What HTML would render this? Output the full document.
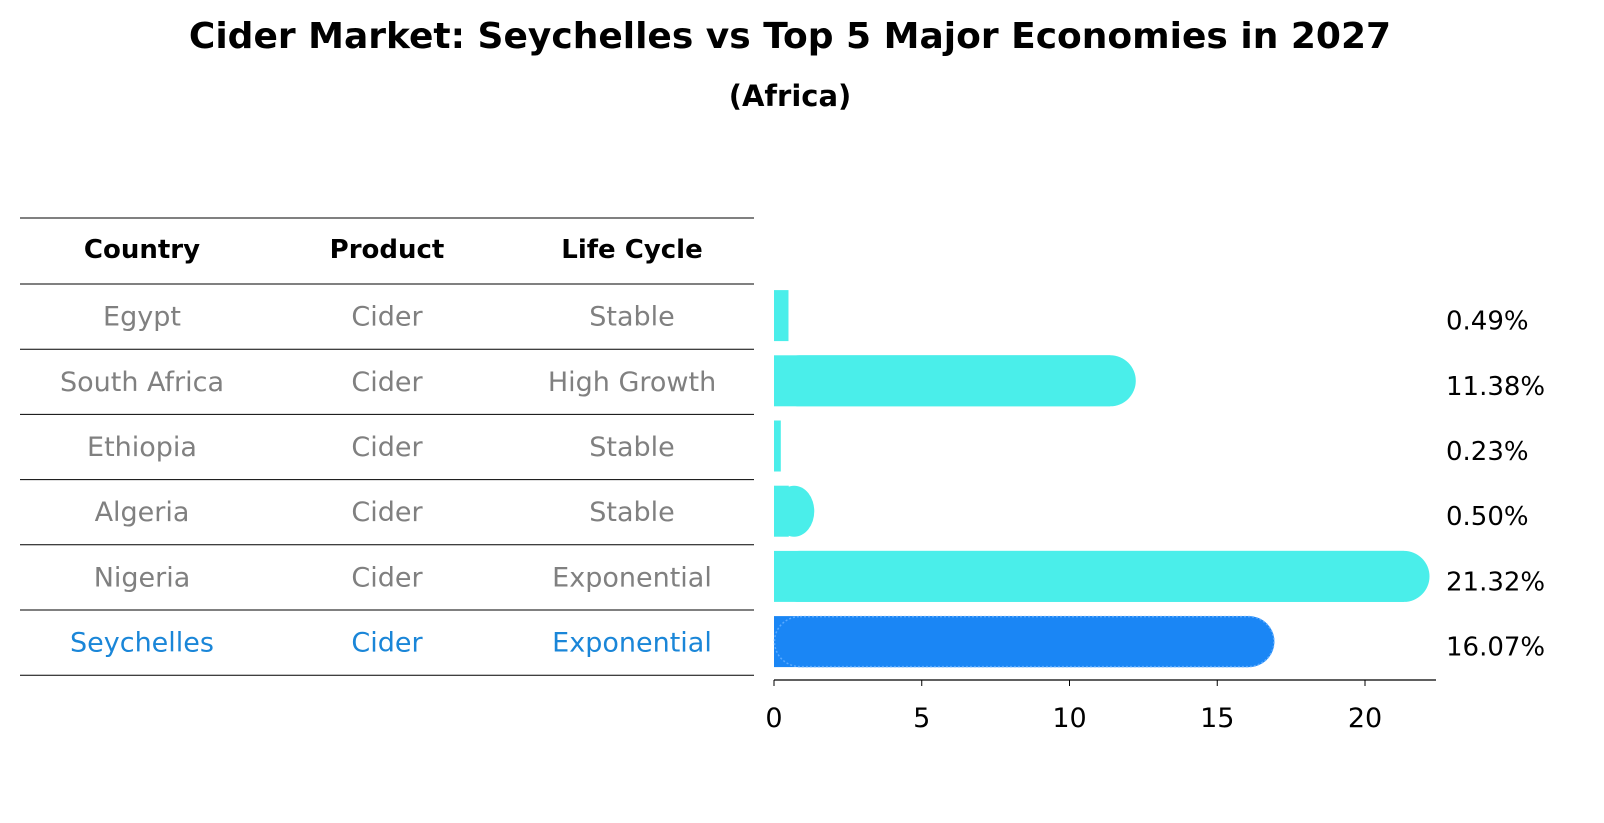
<!DOCTYPE html>
<html><head><meta charset="utf-8"><style>
body{margin:0;background:#fff;font-family:"Liberation Sans","DejaVu Sans",sans-serif;}
#wrap{position:relative;width:1604px;height:823px;overflow:hidden;}
.t{position:absolute;white-space:nowrap;line-height:1;}
</style></head><body>
<div id="wrap">
<div class="t" style="left:0;width:1580px;text-align:center;top:19px;font-size:36px;font-weight:bold;font-family:'DejaVu Sans',sans-serif;">Cider Market: Seychelles vs Top 5 Major Economies in 2027</div>
<div class="t" style="left:0;width:1580px;text-align:center;top:82px;font-size:29px;font-weight:bold;font-family:'DejaVu Sans',sans-serif;">(Africa)</div>
<svg id="svg" width="1604" height="823" style="position:absolute;left:0;top:0"></svg>
</div>
<script>
const countries=["Egypt","South Africa","Ethiopia","Algeria","Nigeria","Seychelles"];
const products=["Cider","Cider","Cider","Cider","Cider","Cider"];
const lifecycle=["Stable","High Growth","Stable","Stable","Exponential","Exponential"];
const values=[0.49,11.38,0.23,0.50,21.32,16.07];
const xTicks=[0,5,10,15,20];
const NS="http://www.w3.org/2000/svg";
const svg=document.getElementById('svg');
function mk(tag,attrs,parent){const e=document.createElementNS(NS,tag);for(const k in attrs)e.setAttribute(k,attrs[k]);(parent||svg).appendChild(e);return e;}
const x0=774,pxPer=(1365-774)/20;
function xs(v){return x0+v*pxPer;}
const rowTop=284,rowH=65.2;
function yc(i){return rowTop+rowH*(i+0.5);}
const font="'DejaVu Sans',sans-serif";
for(let i=0;i<=countries.length+1;i++){
  const y=i==0?218:rowTop+rowH*(i-1);
  const l=mk('line',{x1:20,x2:754,y1:y,y2:y,stroke:'#000','stroke-width':1});
  
  
}
const cols=[142,387,632];
const heads=["Country","Product","Life Cycle"];
heads.forEach((h,j)=>{const t=mk('text',{x:cols[j],y:258,'text-anchor':'middle','font-size':26,'font-weight':'bold','font-family':font});t.textContent=h;

});
countries.forEach((c,i)=>{
  const col=i==countries.length-1?'#1a86d8':'#808080';
  [c,products[i],lifecycle[i]].forEach((s,j)=>{const t=mk('text',{x:cols[j],y:yc(i)+9,'text-anchor':'middle','font-size':27,fill:col,'font-family':font});t.textContent=s;
  
  });
  const bh=51,top=yc(i)-bh/2-1,w=xs(values[i])-x0;
  const fill=i==countries.length-1?'#1a86f5':'#4aeeea';
  const g=mk('g',{});
  
  
  mk('rect',{x:x0,y:top,width:Math.max(w,1),height:bh,fill:fill},g);
  if(values[i]>=0.5){mk('rect',{x:x0,y:top,width:w+bh/2,height:bh,rx:bh/2,ry:bh/2,fill:fill},g);}
  if(i==countries.length-1){mk('rect',{x:x0+0.5,y:top+0.5,width:w+bh/2-1,height:bh-1,rx:bh/2,fill:'none',stroke:'#5aaaff','stroke-width':1.5,'stroke-dasharray':'2,2'},g);}
  const lt=mk('text',{x:1446,y:yc(i)+13,'font-size':26,'font-family':font});lt.textContent=values[i].toFixed(2)+'%';
  
  
});
const ax=mk('line',{x1:x0,x2:1436,y1:680,y2:680,stroke:'#000','stroke-width':1.2});


xTicks.forEach(v=>{const tk=mk('line',{x1:xs(v),x2:xs(v),y1:680,y2:686,stroke:'#000'});


const t=mk('text',{x:xs(v),y:727,'text-anchor':'middle','font-size':27,'font-family':font});t.textContent=v;

});
</script>
</body></html>
